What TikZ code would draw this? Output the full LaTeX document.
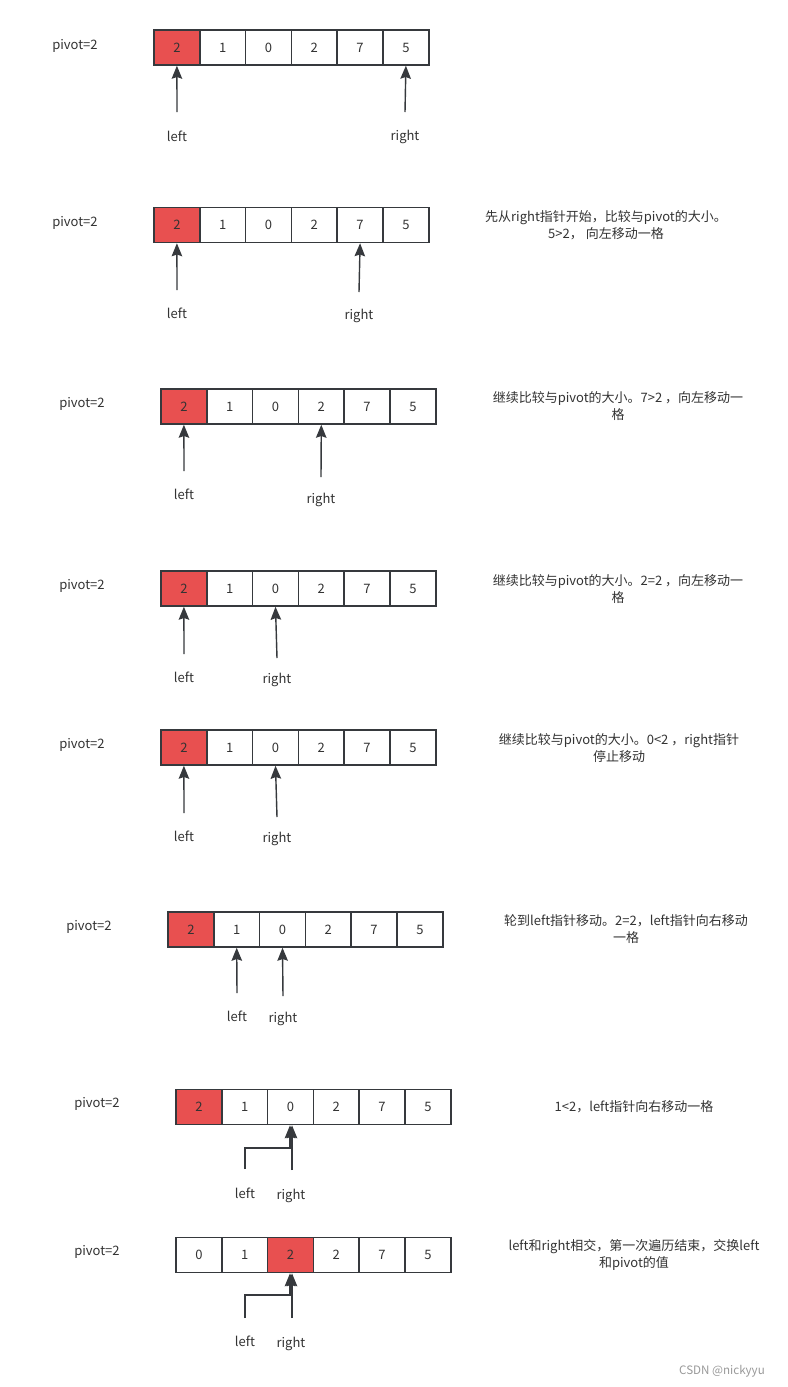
\documentclass[tikz,border=0pt]{standalone}
\usepackage{fontspec}
\setmainfont{Noto Sans CJK SC}
\usetikzlibrary{arrows.meta}
\definecolor{pivred}{HTML}{E85050}
\definecolor{edge}{HTML}{36393D}
\definecolor{txt}{HTML}{333333}
\tikzset{
	cell/.style={draw=edge, line width=0.85pt, minimum width=0.916cm, minimum height=0.7cm, inner sep=0pt, text=txt},
	ptr/.style={draw=edge, line width=0.8pt, -{Stealth[length=2.6mm,width=2.1mm,inset=0.35mm]}},
	lab/.style={text=txt, inner sep=0pt},
	note/.style={text=txt, inner sep=0pt, align=center}
}
\begin{document}
\begin{tikzpicture}[x=0.02cm, y=-0.02cm, font=\fontsize{7.4}{9.5}\selectfont]
		\useasboundingbox[fill=white] (0,0) rectangle (788,1387);
		
		% step 1
		\node[lab] (p1) at (75,46) {pivot=2};
		\foreach \v/\c [count=\i] in {2/pivred,1/white,0/white,2/white,7/white,5/white}
			\node[cell, fill=\c] (a1-\i) at (131.1+45.8*\i,47.5) {\v};
		\coordinate (l1) at (177,112);
		\coordinate (r1) at (405,112);
		\node[lab] (left1) at (177,136) {left};
		\node[lab] (right1) at (405,137) {right};
		\draw[ptr] (l1) -- (a1-1.south);
		\draw[ptr] (r1) -- (a1-6.south);
		
		% step 2
		\node[lab] (p2) at (75,223) {pivot=2};
		\foreach \v/\c [count=\i] in {2/pivred,1/white,0/white,2/white,7/white,5/white}
			\node[cell, fill=\c] (a2-\i) at (131.1+45.8*\i,225) {\v};
		\coordinate (l2) at (177,290);
		\coordinate (r2) at (359,292);
		\node[lab] (left2) at (177,313) {left};
		\node[lab] (right2) at (359,316) {right};
		\draw[ptr] (l2) -- (a2-1.south);
		\draw[ptr] (r2) -- (a2-5.south);
		\node[note] (n2) at (606,225) {先从right指针开始，比较与pivot的大小。\\5>2， 向左移动一格};
		
		% step 3
		\node[lab] (p3) at (82,404) {pivot=2};
		\foreach \v/\c [count=\i] in {2/pivred,1/white,0/white,2/white,7/white,5/white}
			\node[cell, fill=\c] (a3-\i) at (138.1+45.8*\i,406.5) {\v};
		\coordinate (l3) at (184,471);
		\coordinate (r3) at (321,477);
		\node[lab] (left3) at (184,494) {left};
		\node[lab] (right3) at (321,500) {right};
		\draw[ptr] (l3) -- (a3-1.south);
		\draw[ptr] (r3) -- (a3-4.south);
		\node[note] (n3) at (618,406) {继续比较与pivot的大小。7>2 ，向左移动一\\格};
		
		% step 4
		\node[lab] (p4) at (82,586) {pivot=2};
		\foreach \v/\c [count=\i] in {2/pivred,1/white,0/white,2/white,7/white,5/white}
			\node[cell, fill=\c] (a4-\i) at (138.1+45.8*\i,588.5) {\v};
		\coordinate (l4) at (184,654);
		\coordinate (r4) at (277,658);
		\node[lab] (left4) at (184,677) {left};
		\node[lab] (right4) at (277,680) {right};
		\draw[ptr] (l4) -- (a4-1.south);
		\draw[ptr] (r4) -- (a4-3.south);
		\node[note] (n4) at (618,589) {继续比较与pivot的大小。2=2 ，向左移动一\\格};
		
		% step 5
		\node[lab] (p5) at (82,745) {pivot=2};
		\foreach \v/\c [count=\i] in {2/pivred,1/white,0/white,2/white,7/white,5/white}
			\node[cell, fill=\c] (a5-\i) at (138.1+45.8*\i,747.5) {\v};
		\coordinate (l5) at (184,813);
		\coordinate (r5) at (277,817);
		\node[lab] (left5) at (184,836) {left};
		\node[lab] (right5) at (277,839) {right};
		\draw[ptr] (l5) -- (a5-1.south);
		\draw[ptr] (r5) -- (a5-3.south);
		\node[note] (n5) at (619,748) {继续比较与pivot的大小。0<2 ，right指针\\停止移动};
		
		% step 6
		\node[lab] (p6) at (89,927) {pivot=2};
		\foreach \v/\c [count=\i] in {2/pivred,1/white,0/white,2/white,7/white,5/white}
			\node[cell, fill=\c] (a6-\i) at (145.1+45.8*\i,929.5) {\v};
		\coordinate (l6) at (237,993);
		\coordinate (r6) at (283,996);
		\node[lab] (left6) at (237,1016) {left};
		\node[lab] (right6) at (283,1019) {right};
		\draw[ptr] (l6) -- (a6-2.south);
		\draw[ptr] (r6) -- (a6-3.south);
		\node[note] (n6) at (626,929) {轮到left指针移动。2=2，left指针向右移动\\一格};
		
		% step 7
		\node[lab] (p7) at (97,1104) {pivot=2};
		\foreach \v/\c [count=\i] in {2/pivred,1/white,0/white,2/white,7/white,5/white}
			\node[cell, fill=\c] (a7-\i) at (153.1+45.8*\i,1107) {\v};
		\coordinate (l7) at (245,1169);
		\coordinate (b7) at (290,1148);
		\coordinate (r7) at (292,1170);
		\node[lab] (left7) at (245,1193) {left};
		\node[lab] (right7) at (291,1196) {right};
		\draw[ptr] (l7) |- (b7) -- (b7 |- a7-3.south);
		\draw[ptr] (r7) -- (r7 |- a7-3.south);
		\node[note] (n7) at (634,1107) {1<2，left指针向右移动一格};
		
		% step 8
		\node[lab] (p8) at (97,1252) {pivot=2};
		\foreach \v/\c [count=\i] in {0/white,1/white,2/pivred,2/white,7/white,5/white}
			\node[cell, fill=\c] (a8-\i) at (153.1+45.8*\i,1255) {\v};
		\coordinate (l8) at (245,1318);
		\coordinate (b8) at (290,1295);
		\coordinate (r8) at (292,1318);
		\node[lab] (left8) at (245,1341) {left};
		\node[lab] (right8) at (291,1344) {right};
		\draw[ptr] (l8) |- (b8) -- (b8 |- a8-3.south);
		\draw[ptr] (r8) -- (r8 |- a8-3.south);
		\node[note] (n8) at (634,1255) {left和right相交，第一次遍历结束，交换left\\和pivot的值};
		
		\node[lab, text=black!40, font=\fontsize{6.6}{8}\selectfont] (mark) at (722,1371) {CSDN @nickyyu};
	\end{tikzpicture}
\end{document}
